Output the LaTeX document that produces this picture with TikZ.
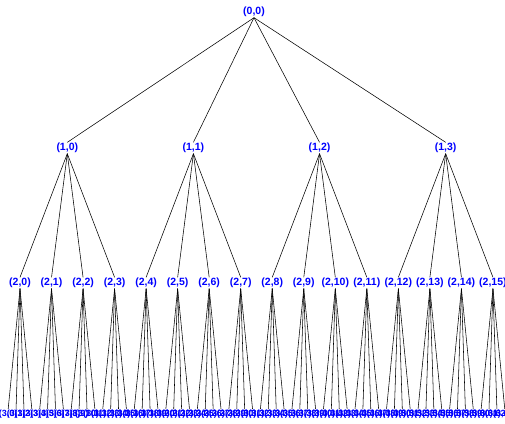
\documentclass[tikz,border=0pt]{standalone}
\usepackage{fontspec}
\setmainfont{Liberation Sans}
\begin{document}
\begin{tikzpicture}[x=1pt,y=-1pt,
  lbl/.style={font=\bfseries\fontsize{10.5}{11}\selectfont, text=blue, inner sep=0.6pt},
  leaf/.style={lbl, font=\bfseries\fontsize{9}{10}\selectfont},
  edge/.style={draw=black, line width=0.55pt}]
\useasboundingbox (0,0) rectangle (505,423);
\node[lbl] (r) at (254,12) {(0,0)};
\foreach \i in {0,...,3}{
  \pgfmathsetmacro{\xa}{20+(4*\i+1.5)*31.53}
  \node[lbl] (a\i) at (\xa,148) {(1,\i)};
}
\foreach \i in {0,...,15}{
  \pgfmathsetmacro{\xb}{20+\i*31.53}
  \node[lbl] (b\i) at (\xb,283) {(2,\i)};
}
\foreach \k in {0,...,63}{
  \pgfmathtruncatemacro{\p}{div(\k,4)}
  \pgfmathsetmacro{\xc}{20+\p*31.53+(mod(\k,4)-1.5)*7.88}
  \node[leaf] (c\k) at (\xc,414) {(3,\k)};
}
\foreach \i in {0,...,3}{ \draw[edge] (r.south) -- (a\i.north); }
\foreach \i in {0,...,15}{
  \pgfmathtruncatemacro{\p}{div(\i,4)}
  \draw[edge] (a\p.south) -- (b\i.north);
}
\foreach \k in {0,...,63}{
  \pgfmathtruncatemacro{\p}{div(\k,4)}
  \draw[edge] (b\p.south) -- (c\k.north);
}
\end{tikzpicture}
\end{document}
